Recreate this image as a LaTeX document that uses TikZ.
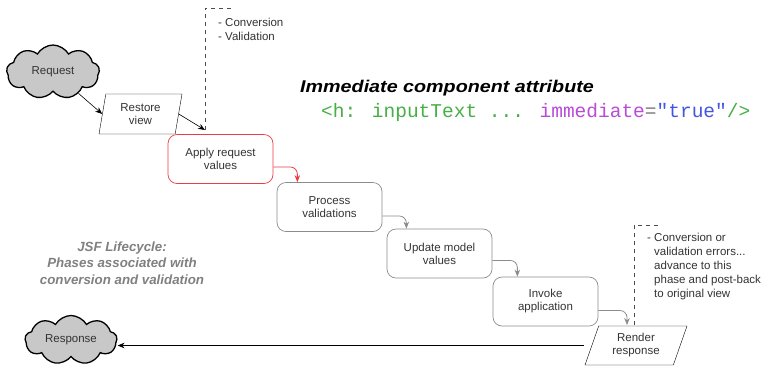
\documentclass[tikz,border=0pt]{standalone}
\usepackage{fontspec}
\setmainfont{Liberation Sans}
\newfontfamily\codefont{Liberation Mono}
\newfontfamily\headfont[FakeStretch=1.16]{Liberation Sans}
\usetikzlibrary{shapes.symbols,shapes.geometric,arrows.meta}

\definecolor{phaseline}{RGB}{140,140,140}
\definecolor{cloudfill}{RGB}{200,200,200}
\definecolor{notegray}{RGB}{128,128,128}
\definecolor{codegreen}{RGB}{70,175,70}
\definecolor{codepurple}{RGB}{185,75,215}
\definecolor{codeblue}{RGB}{70,85,225}
\definecolor{codegray}{RGB}{120,120,120}
\definecolor{applyred}{RGB}{235,60,70}

\tikzset{
  lbl/.style={font=\fontsize{11.5}{13}\selectfont, align=center, text=black!80},
  cloudnode/.style={cloud, cloud puffs=9, cloud puff arc=120, cloud ignores aspect,
    draw=black, line width=1.3pt, fill=cloudfill, lbl, inner sep=0pt},
  iobox/.style={trapezium, trapezium stretches body, draw=black, lbl, inner sep=0pt},
  phase/.style={rectangle, rounded corners=9pt, draw=phaseline, line width=0.7pt,
    minimum width=105pt, minimum height=49pt, lbl, inner sep=0pt},
  tip/.style={-{Stealth[length=7pt,width=5.5pt]}},
  flow/.style={tip, draw=black, line width=0.6pt},
  phaseflow/.style={tip, draw=phaseline, line width=0.8pt, rounded corners=7pt},
  note/.style={font=\fontsize{11.5}{14}\selectfont, align=left, anchor=north west,
    text=black!80, inner sep=0pt},
  guide/.style={draw=black!70, dashed, dash pattern=on 4pt off 4pt, line width=0.6pt},
}

\begin{document}
\begin{tikzpicture}[x=1pt,y=-1pt]
\useasboundingbox (0,0) rectangle (767,368);

% start and end of the request cycle
\node[cloudnode, minimum width=93pt, minimum height=54pt] (request) at (53,72) {Request};
\node[cloudnode, minimum width=92pt, minimum height=49pt] (response) at (71,340) {Response};

% input/output steps
\node[iobox, trapezium left angle=72, trapezium right angle=108,
      minimum width=83pt, minimum height=40pt] (restore) at (140.5,114) {Restore\\view};
\node[iobox, trapezium left angle=60, trapezium right angle=120,
      minimum width=102pt, minimum height=39pt] (render) at (636,345.5) {Render\\response};

% lifecycle phases
\node[phase, draw=applyred] (apply) at (220.5,159) {Apply request\\values};
\node[phase] (process) at (329.5,207) {Process\\validations};
\node[phase] (update) at (439.5,253.5) {Update model\\values};
\node[phase] (invoke) at (545.5,301.5) {Invoke\\application};

% dashed markers for the annotations
\coordinate (markA) at (205,130);
\coordinate (markB) at (634,325);
\draw[guide] (markA) -- (205,8) -- (231,8);
\draw[guide] (markB) -- (634,225) -- (659,225);

\node[note] (noteA) at (218,17.5) {- Conversion\\- Validation};
\node[note] (noteB) at (647,233) {- Conversion or\\\hphantom{- }validation errors...\\\hphantom{- }advance to this\\\hphantom{- }phase and post-back\\\hphantom{- }to original view};

% connectors
\draw[flow] (request.-40) -- (restore.west);
\draw[flow] (restore.east) -- (markA);
\draw[phaseflow, draw=applyred] ([yshift=-8pt]apply.east) -| ([xshift=-85pt]process.north east);
\draw[phaseflow] ([yshift=-9pt]process.east) -| ([xshift=-86pt]update.north east);
\draw[phaseflow] ([yshift=-7pt]update.east) -| ([xshift=-81pt]invoke.north east);
\draw[phaseflow] ([yshift=-9pt]invoke.east) -| ([xshift=-7pt]markB);
\draw[flow] ([xshift=-8pt]render.west) -- (render.west -| response.east);

% titles
\node[anchor=west, inner sep=0pt, font=\headfont\fontsize{17}{18}\selectfont\bfseries\itshape] (title) at (300,88)
  {Immediate component attribute};
\node[anchor=west, inner sep=0pt, font=\codefont\fontsize{19.5}{20}\selectfont] (code) at (321,112)
  {\textcolor{codegreen}{<h: inputText ...} \textcolor{codepurple}{immediate}\textcolor{codegray}{=}\textcolor{codeblue}{"true"}\textcolor{codegreen}{/>}};

\node[align=center, inner sep=0pt, text=notegray, font=\fontsize{13.3}{16.5}\selectfont\bfseries\itshape] (caption) at (122,263)
  {JSF Lifecycle:\\Phases associated with\\conversion and validation};
\end{tikzpicture}
\end{document}
